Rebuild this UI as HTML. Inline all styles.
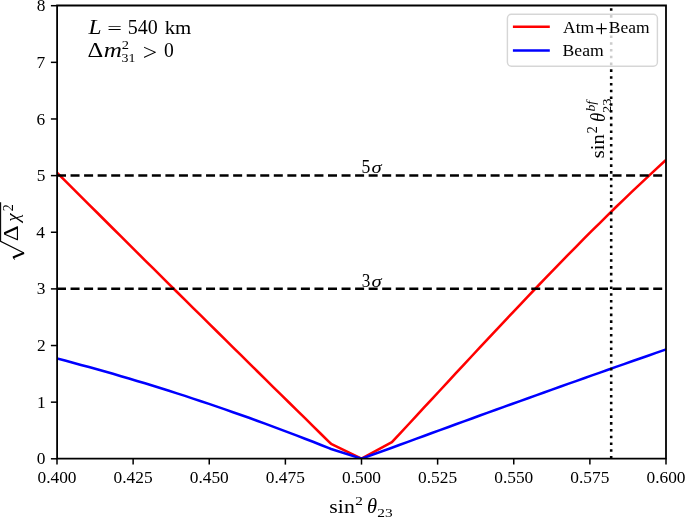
<!DOCTYPE html><html><head><meta charset="utf-8"><style>html,body{margin:0;padding:0;background:#fff;overflow:hidden}svg{display:block;will-change:transform}text{font-family:"Liberation Serif",serif;fill:#000}.i{font-style:italic}</style></head><body>
<svg width="685" height="517" viewBox="0 0 685 517">
<rect x="0" y="0" width="685" height="517" fill="#fff"/>
<defs><clipPath id="ax"><rect x="57.0" y="5.5" width="609.0" height="453.1"/></clipPath></defs>
<g clip-path="url(#ax)">
<polyline points="57.0,172.7 65.0,180.7 73.0,188.6 81.0,196.6 89.0,204.6 97.0,212.5 105.0,220.5 113.0,228.5 121.0,236.4 129.0,244.4 137.0,252.3 145.0,260.3 153.0,268.2 161.0,276.1 169.0,284.1 177.0,292.0 185.0,299.9 193.0,307.8 201.0,315.7 209.0,323.6 217.0,331.5 225.0,339.4 233.0,347.3 241.0,355.2 249.0,363.1 257.0,371.0 265.0,378.9 273.0,386.8 281.0,394.6 289.0,402.5 297.0,410.4 305.0,418.2 313.0,426.1 321.0,434.0 329.0,441.8 331.1,443.8 361.5,458.6 391.9,442.2 399.9,433.6 407.9,425.0 415.9,416.4 423.9,407.7 431.9,399.1 439.9,390.5 447.9,381.8 455.9,373.2 463.9,364.6 471.9,356.0 479.9,347.4 487.9,338.8 495.9,330.3 503.9,321.8 511.9,313.3 520.0,304.8 528.0,296.4 536.0,288.0 544.0,279.7 552.0,271.4 560.0,263.1 568.0,254.9 576.0,246.8 584.0,238.7 592.0,230.7 600.0,222.8 608.0,214.9 616.0,207.0 624.0,199.3 632.0,191.6 640.0,184.1 648.0,176.6 656.0,169.1 664.0,161.8 666.0,159.9" fill="none" stroke="#ff0000" stroke-width="2.56" stroke-linejoin="round" stroke-linecap="butt"/>
<polyline points="57.0,358.5 65.0,360.6 73.0,362.7 81.0,364.9 89.0,367.1 97.0,369.3 105.0,371.5 113.0,373.8 121.0,376.2 129.0,378.5 137.0,380.9 145.0,383.3 153.0,385.8 161.0,388.3 169.0,390.8 177.0,393.4 185.0,395.9 193.0,398.6 201.0,401.2 209.0,403.9 217.0,406.6 225.0,409.4 233.0,412.2 241.0,415.0 249.0,417.8 257.0,420.7 265.0,423.6 273.0,426.6 281.0,429.6 289.0,432.6 297.0,435.6 305.0,438.7 313.0,441.8 321.0,445.0 329.0,448.1 331.1,449.0 361.5,458.6 391.9,447.8 399.9,444.8 407.9,441.9 415.9,438.9 423.9,436.0 431.9,433.0 439.9,430.1 447.9,427.2 455.9,424.3 463.9,421.4 471.9,418.5 479.9,415.5 487.9,412.6 495.9,409.8 503.9,406.9 511.9,404.0 520.0,401.1 528.0,398.2 536.0,395.4 544.0,392.5 552.0,389.6 560.0,386.8 568.0,383.9 576.0,381.1 584.0,378.2 592.0,375.4 600.0,372.6 608.0,369.7 616.0,366.9 624.0,364.1 632.0,361.3 640.0,358.5 648.0,355.7 656.0,352.9 664.0,350.1 666.0,349.4" fill="none" stroke="#0000ff" stroke-width="2.56" stroke-linejoin="round" stroke-linecap="butt"/>
<line x1="57.0" y1="175.41" x2="666.0" y2="175.41" stroke="#000" stroke-width="2.56" stroke-dasharray="9.0 4.55"/>
<line x1="57.0" y1="288.69" x2="666.0" y2="288.69" stroke="#000" stroke-width="2.56" stroke-dasharray="9.0 4.55"/>
<line x1="611.19" y1="458.6" x2="611.19" y2="5.5" stroke="#000" stroke-width="2.56" stroke-dasharray="2.560 4.224"/>
</g>
<path d="M 57.1,4.6 V 459.5 M 666.0,4.6 V 459.5 M 56.2,5.5 H 666.9 M 56.2,458.6 H 666.9" fill="none" stroke="#000" stroke-width="1.8"/>
<line x1="57.00" y1="458.6" x2="57.00" y2="464.6" stroke="#000" stroke-width="1.5"/>
<text transform="translate(37.44,482.51) scale(1.0360,1)" font-size="16.78">0.400</text>
<line x1="133.13" y1="458.6" x2="133.13" y2="464.6" stroke="#000" stroke-width="1.5"/>
<text transform="translate(113.57,482.51) scale(1.0360,1)" font-size="16.78">0.425</text>
<line x1="209.25" y1="458.6" x2="209.25" y2="464.6" stroke="#000" stroke-width="1.5"/>
<text transform="translate(189.69,482.51) scale(1.0360,1)" font-size="16.78">0.450</text>
<line x1="285.38" y1="458.6" x2="285.38" y2="464.6" stroke="#000" stroke-width="1.5"/>
<text transform="translate(265.82,482.51) scale(1.0360,1)" font-size="16.78">0.475</text>
<line x1="361.50" y1="458.6" x2="361.50" y2="464.6" stroke="#000" stroke-width="1.5"/>
<text transform="translate(341.94,482.51) scale(1.0360,1)" font-size="16.78">0.500</text>
<line x1="437.62" y1="458.6" x2="437.62" y2="464.6" stroke="#000" stroke-width="1.5"/>
<text transform="translate(418.07,482.51) scale(1.0360,1)" font-size="16.78">0.525</text>
<line x1="513.75" y1="458.6" x2="513.75" y2="464.6" stroke="#000" stroke-width="1.5"/>
<text transform="translate(494.19,482.51) scale(1.0360,1)" font-size="16.78">0.550</text>
<line x1="589.88" y1="458.6" x2="589.88" y2="464.6" stroke="#000" stroke-width="1.5"/>
<text transform="translate(570.32,482.51) scale(1.0360,1)" font-size="16.78">0.575</text>
<line x1="666.00" y1="458.6" x2="666.00" y2="464.6" stroke="#000" stroke-width="1.5"/>
<text transform="translate(646.44,482.51) scale(1.0360,1)" font-size="16.78">0.600</text>
<line x1="50.9" y1="458.80" x2="57.0" y2="458.80" stroke="#000" stroke-width="1.5"/>
<text transform="translate(36.72,464.40) scale(1.0360,1)" font-size="16.78">0</text>
<line x1="50.9" y1="402.16" x2="57.0" y2="402.16" stroke="#000" stroke-width="1.5"/>
<text transform="translate(37.10,407.80) scale(1.0360,1)" font-size="16.78">1</text>
<line x1="50.9" y1="345.53" x2="57.0" y2="345.53" stroke="#000" stroke-width="1.5"/>
<text transform="translate(37.02,351.18) scale(1.0360,1)" font-size="16.78">2</text>
<line x1="50.9" y1="288.89" x2="57.0" y2="288.89" stroke="#000" stroke-width="1.5"/>
<text transform="translate(36.73,294.46) scale(1.0360,1)" font-size="16.78">3</text>
<line x1="50.9" y1="232.25" x2="57.0" y2="232.25" stroke="#000" stroke-width="1.5"/>
<text transform="translate(36.33,237.87) scale(1.0360,1)" font-size="16.78">4</text>
<line x1="50.9" y1="175.61" x2="57.0" y2="175.61" stroke="#000" stroke-width="1.5"/>
<text transform="translate(36.73,181.13) scale(1.0360,1)" font-size="16.78">5</text>
<line x1="50.9" y1="118.97" x2="57.0" y2="118.97" stroke="#000" stroke-width="1.5"/>
<text transform="translate(36.57,124.55) scale(1.0360,1)" font-size="16.78">6</text>
<line x1="50.9" y1="62.34" x2="57.0" y2="62.34" stroke="#000" stroke-width="1.5"/>
<text transform="translate(36.56,67.93) scale(1.0360,1)" font-size="16.78">7</text>
<line x1="50.9" y1="5.70" x2="57.0" y2="5.70" stroke="#000" stroke-width="1.5"/>
<text transform="translate(36.72,11.30) scale(1.0360,1)" font-size="16.78">8</text>
<text transform="translate(361.53,173.46) scale(0.9010,1)" font-size="19.56">5</text>
<text transform="translate(371.54,173.49) scale(1.2885,1)" font-size="15.99" class="i">σ</text>
<text transform="translate(361.73,286.74) scale(0.8883,1)" font-size="19.35">3</text>
<text transform="translate(371.54,286.77) scale(1.2885,1)" font-size="15.99" class="i">σ</text>
<text transform="translate(88.52,33.65) scale(1.1539,1)" font-size="20.31" class="i">L</text>
<text transform="translate(107.15,34.31) scale(1.5118,1)" font-size="17.20">=</text>
<text transform="translate(127.79,33.75) scale(0.9648,1)" font-size="20.75">540</text>
<text transform="translate(164.65,33.65) scale(1.0629,1)" font-size="19.60">km</text>
<text transform="translate(87.62,56.55) scale(1.1635,1)" font-size="21.06">Δ</text>
<text transform="translate(103.84,57.15) scale(1.2476,1)" font-size="20.16" class="i">m</text>
<text transform="translate(121.81,49.25) scale(1.2441,1)" font-size="11.63">2</text>
<text transform="translate(121.58,62.02) scale(1.0613,1)" font-size="13.10">31</text>
<text transform="translate(142.85,59.58) scale(1.0918,1)" font-size="23.42">&gt;</text>
<text transform="translate(163.90,57.25) scale(0.9507,1)" font-size="20.60">0</text>
<text transform="translate(329.36,513.26) scale(1.1005,1)" font-size="19.80">sin</text>
<text transform="translate(355.18,504.75) scale(1.1320,1)" font-size="13.44">2</text>
<text transform="translate(367.05,513.25) scale(1.0107,1)" font-size="20.31" class="i">θ</text>
<text transform="translate(377.37,516.52) scale(1.1479,1)" font-size="13.40">23</text>
<g transform="rotate(-90)"><text transform="translate(-158.30,604.46) scale(1.0737,1)" font-size="19.20">sin</text></g>
<g transform="rotate(-90)"><text transform="translate(-133.60,596.95) scale(1.0478,1)" font-size="14.05">2</text></g>
<g transform="rotate(-90)"><text transform="translate(-122.07,604.65) scale(0.9415,1)" font-size="20.03" class="i">θ</text></g>
<g transform="rotate(-90)"><text transform="translate(-113.10,610.52) scale(1.1240,1)" font-size="13.10">23</text></g>
<g transform="rotate(-90)"><text transform="translate(-111.56,594.78) scale(1.0993,1)" font-size="12.54" class="i">bf</text></g>
<path d="M 0.6,202.3 L 0.6,241.3 L 24,252.9" fill="none" stroke="#000" stroke-width="1.1" stroke-linejoin="miter"/>
<path d="M 24,252.9 L 13,257.4" fill="none" stroke="#000" stroke-width="2.2"/>
<path d="M 13.2,257.2 L 14.6,259.6" fill="none" stroke="#000" stroke-width="1.0"/>
<g transform="rotate(-90)"><text transform="translate(-241.19,18.25) scale(1.1635,1)" font-size="21.21">Δ</text></g>
<g transform="rotate(-90)"><text transform="translate(-221.81,18.53) scale(0.9944,1)" font-size="19.35" class="i">χ</text></g>
<g transform="rotate(-90)"><text transform="translate(-211.26,12.65) scale(1.0053,1)" font-size="13.89">2</text></g>
<rect x="507.4" y="14.3" width="150" height="51.9" rx="4" ry="4" fill="#fff" fill-opacity="0.8" stroke="#cccccc" stroke-opacity="0.8" stroke-width="1.4"/>
<line x1="512.9" y1="26.7" x2="549.8" y2="26.7" stroke="#ff0000" stroke-width="2.56"/>
<line x1="512.9" y1="50.5" x2="549.8" y2="50.5" stroke="#0000ff" stroke-width="2.56"/>
<text transform="translate(563.08,32.68) scale(0.9946,1)" font-size="17.61">Atm</text>
<text transform="translate(595.02,35.74) scale(1.0302,1)" font-size="22.11">+</text>
<text transform="translate(608.85,32.68) scale(1.0015,1)" font-size="17.46">Beam</text>
<text transform="translate(562.54,56.28) scale(1.0115,1)" font-size="17.46">Beam</text>
</svg></body></html>
